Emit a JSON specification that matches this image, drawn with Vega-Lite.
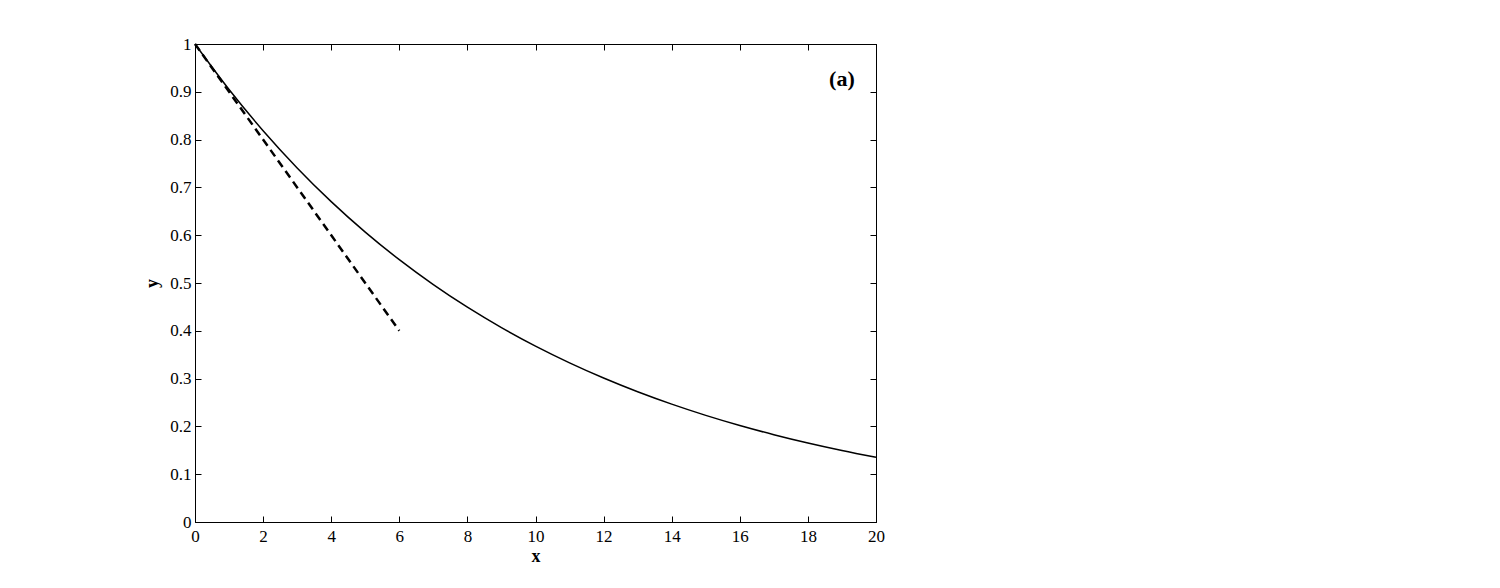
{
  "$schema": "https://vega.github.io/schema/vega-lite/v6.json",
  "width": 681,
  "height": 478,
  "autosize": {"type": "none"},
  "padding": {"left": 195, "top": 44, "right": 624, "bottom": 66},
  "background": "white",
  "config": {
    "view": {"stroke": "black", "strokeWidth": 1},
    "font": "Liberation Serif",
    "axis": {
      "grid": false,
      "domainColor": "black",
      "tickColor": "black",
      "labelColor": "black",
      "titleColor": "black",
      "labelFont": "Liberation Serif",
      "titleFont": "Liberation Serif",
      "labelFontSize": 17,
      "titleFontSize": 18,
      "titleFontWeight": "bold",
      "tickSize": -6,
      "labelPadding": 10,
      "labelFlush": false
    }
  },
  "datasets": {
    "curve": [
      {"x": 0, "y": 1.0},
      {"x": 1, "y": 0.9048},
      {"x": 2, "y": 0.8187},
      {"x": 3, "y": 0.7408},
      {"x": 4, "y": 0.6703},
      {"x": 5, "y": 0.6065},
      {"x": 6, "y": 0.5488},
      {"x": 7, "y": 0.4966},
      {"x": 8, "y": 0.4493},
      {"x": 9, "y": 0.4066},
      {"x": 10, "y": 0.3679},
      {"x": 11, "y": 0.3329},
      {"x": 12, "y": 0.3012},
      {"x": 13, "y": 0.2725},
      {"x": 14, "y": 0.2466},
      {"x": 15, "y": 0.2231},
      {"x": 16, "y": 0.2019},
      {"x": 17, "y": 0.1827},
      {"x": 18, "y": 0.1653},
      {"x": 19, "y": 0.1496},
      {"x": 20, "y": 0.1353}
    ],
    "tangent": [
      {"x": 0, "y": 1.0},
      {"x": 6, "y": 0.4}
    ],
    "label": [
      {"x": 19.0, "y": 0.927, "text": "(a)"}
    ]
  },
  "resolve": {"axis": {"x": "independent", "y": "independent"}},
  "layer": [
    {
      "data": {"name": "curve"},
      "mark": {"type": "line", "color": "black", "strokeWidth": 1.5, "interpolate": "monotone"},
      "encoding": {
        "x": {"field": "x", "type": "quantitative", "scale": {"domain": [0, 20], "nice": false, "zero": false},
              "axis": {"orient": "bottom", "title": "x", "values": [0,2,4,6,8,10,12,14,16,18,20], "labelPadding": 12, "titlePadding": 3}},
        "y": {"field": "y", "type": "quantitative", "scale": {"domain": [0, 1], "nice": false},
              "axis": {"orient": "left", "title": "y", "values": [0,0.1,0.2,0.3,0.4,0.5,0.6,0.7,0.8,0.9,1], "titlePadding": 8,
                       "labelExpr": "datum.value == 0 ? '0' : datum.value == 1 ? '1' : format(datum.value, '.1f')"}}
      }
    },
    {
      "data": {"name": "tangent"},
      "mark": {"type": "line", "color": "black", "strokeWidth": 2.5, "strokeDash": [8, 5]},
      "encoding": {
        "x": {"field": "x", "type": "quantitative",
              "axis": {"orient": "top", "title": null, "labels": false, "values": [0,2,4,6,8,10,12,14,16,18,20]}},
        "y": {"field": "y", "type": "quantitative",
              "axis": {"orient": "right", "title": null, "labels": false, "values": [0,0.1,0.2,0.3,0.4,0.5,0.6,0.7,0.8,0.9,1]}}
      }
    },
    {
      "data": {"name": "label"},
      "mark": {"type": "text", "font": "Liberation Serif", "fontSize": 22, "fontWeight": "bold", "color": "black"},
      "encoding": {
        "x": {"field": "x", "type": "quantitative", "axis": null},
        "y": {"field": "y", "type": "quantitative", "axis": null},
        "text": {"field": "text"}
      }
    }
  ]
}
